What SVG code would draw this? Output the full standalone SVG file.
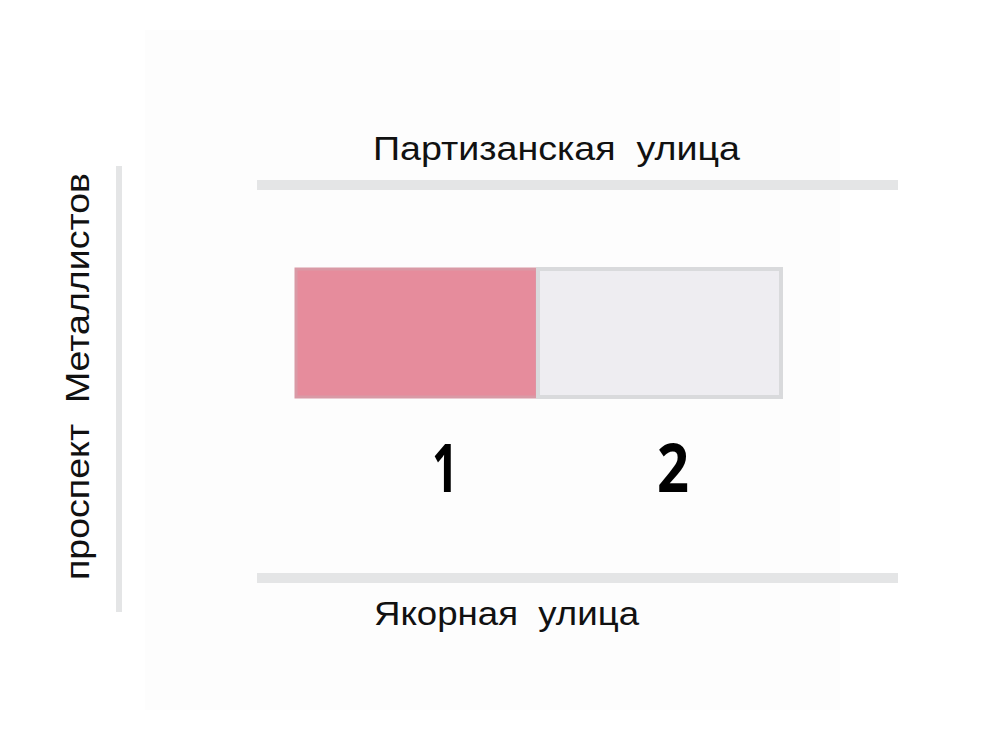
<svg xmlns="http://www.w3.org/2000/svg" width="997" height="748" viewBox="0 0 997 748">
<style>
.street{fill:#e4e5e6}
.lbl{font-family:"Liberation Sans","DejaVu Sans",sans-serif;font-size:34px;fill:#111;white-space:pre}
.num{font-family:"Open Sans","Noto Sans",sans-serif;font-weight:700;font-size:66px;fill:#000;text-anchor:middle}
</style>
<rect width="997" height="748" fill="#ffffff"/>
<rect x="145" y="30" width="695" height="680" fill="#fdfdfd"/>
<g id="streets">
<rect class="street" x="257" y="180" width="641" height="10"/>
<rect class="street" x="257" y="573" width="641" height="10"/>
<rect class="street" x="116" y="166" width="6" height="446"/>
</g>
<g id="street-labels">
<text class="lbl" xml:space="preserve" x="373" y="160" textLength="367" lengthAdjust="spacingAndGlyphs">Партизанская  улица</text>
<text class="lbl" xml:space="preserve" x="374" y="625" textLength="265" lengthAdjust="spacingAndGlyphs">Якорная  улица</text>
<text class="lbl" xml:space="preserve" transform="translate(89,580) rotate(-90)" textLength="407" lengthAdjust="spacingAndGlyphs">проспект  Металлистов</text>
</g>
<g id="plot1">
<rect x="296" y="269" width="241" height="128" fill="#e68c9c" stroke="#d99aa6" stroke-width="3"/>
<text class="num" x="445" y="492" textLength="26" lengthAdjust="spacingAndGlyphs">1</text>
</g>
<g id="plot2">
<rect x="538" y="269" width="243" height="128" fill="#eeedf1" stroke="#d9dadc" stroke-width="4"/>
<text class="num" x="673" y="492" textLength="32" lengthAdjust="spacingAndGlyphs">2</text>
</g>
</svg>
